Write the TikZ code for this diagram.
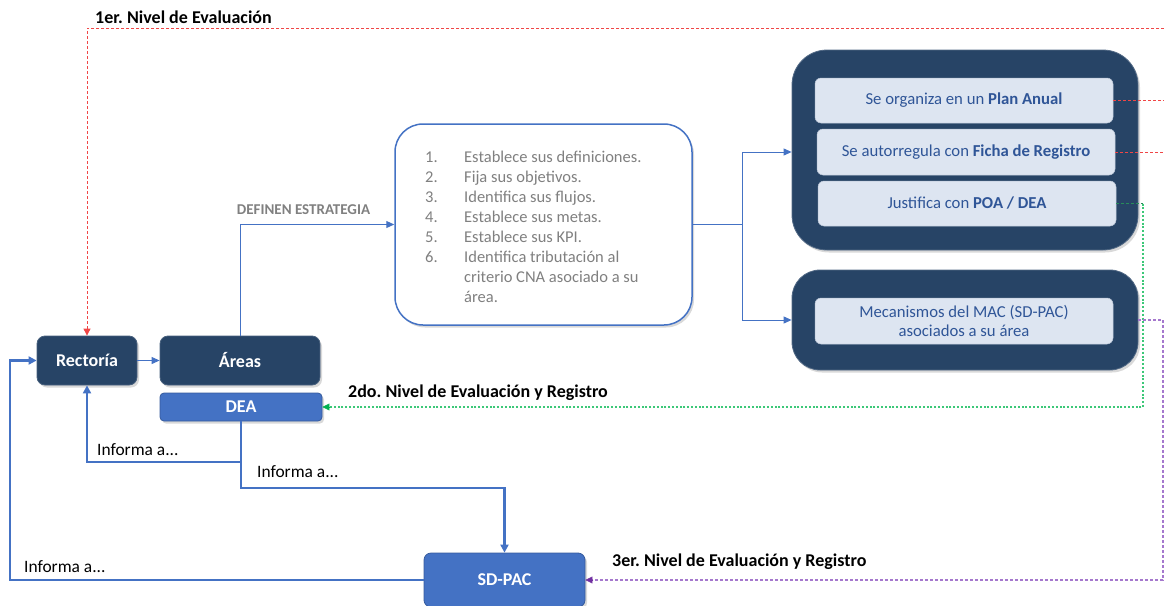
\documentclass[tikz,border=0pt]{standalone}
\usepackage{fontspec}
\setmainfont{Carlito}
\frenchspacing
\usetikzlibrary{arrows.meta,shadows,calc}
\definecolor{navy}{RGB}{39,68,102}
\definecolor{mblue}{RGB}{68,114,196}
\definecolor{lblue}{RGB}{221,229,241}
\definecolor{itext}{RGB}{47,85,151}
\definecolor{gtext}{RGB}{128,128,128}
\definecolor{dred}{RGB}{240,70,70}
\definecolor{dgreen}{RGB}{60,200,120}
\definecolor{dkgreen}{RGB}{40,140,90}
\definecolor{agreen}{RGB}{0,176,80}
\definecolor{dpurple}{RGB}{165,120,205}
\definecolor{apurple}{RGB}{112,48,160}
\begin{document}
\begin{tikzpicture}[x=1pt,y=-1pt,
  shd/.style={drop shadow={opacity=0.3,shadow xshift=2pt,shadow yshift=-2.5pt}},
  navybox/.style={fill=navy,draw=navy!85!white,line width=0.8pt,rounded corners=8pt,text=white,
     font=\fontsize{18}{21}\selectfont\bfseries,inner sep=0pt,shd},
  bluebox/.style={fill=mblue,draw=mblue!80!black,line width=0.8pt,rounded corners=4pt,text=white,
     font=\fontsize{18}{21}\selectfont\bfseries,inner sep=0pt,shd},
  bigbox/.style={fill=navy,draw=navy!80!white,line width=0.8pt,inner sep=0pt,shd},
  innerbox/.style={fill=lblue,draw=lblue!80!navy,line width=0.5pt,rounded corners=6pt,text=itext,
     font=\fontsize{16.7}{19}\selectfont,align=center,inner sep=0pt,minimum width=298pt},
  lbl/.style={font=\fontsize{18}{21}\selectfont\bfseries,anchor=west,inner sep=0pt},
  inf/.style={font=\fontsize{17.4}{20}\selectfont,anchor=west,inner sep=0pt},
  thinarr/.style={draw=mblue,line width=1pt,-{Triangle[length=8pt,width=7pt]}},
  thinln/.style={draw=mblue,line width=1pt},
  thickarr/.style={draw=mblue,line width=2.8pt,-{Triangle[length=8pt,width=8pt]}},
  reddash/.style={draw=dred,line width=0.9pt,dash pattern=on 3pt off 2pt},
  greendot/.style={draw=dgreen,line width=1.1pt,dash pattern=on 2pt off 1.8pt},
  purpdash/.style={draw=dpurple,line width=1.1pt,dash pattern=on 3pt off 2pt}
]
\useasboundingbox (0,0) rectangle (1164,605);

% main nodes
\node[navybox,minimum width=100pt,minimum height=49pt] (rect) at (87,360.5) {Rectoría};
\node[navybox,minimum width=160pt,minimum height=49pt] (areas) at (240,360.5) {Áreas};
\node[bluebox,minimum width=162pt,minimum height=28pt] (dea) at (241,407) {DEA};
\node[bluebox,rounded corners=7pt,minimum width=161pt,minimum height=54pt] (sdpac) at (504.5,580) {SD-PAC};

% strategy box
\node[draw=mblue,line width=1.5pt,fill=white,rounded corners=28pt,minimum width=297pt,minimum height=201pt,inner sep=0pt,shd] (strat) at (543.5,224.5) {};
\node[anchor=north west,text=gtext,font=\fontsize{16.5}{20}\selectfont,inner sep=0pt] (list) at (425,148)
{\begin{tabular}{@{}p{39pt}@{}l@{}}
1. & Establece sus definiciones.\\
2. & Fija sus objetivos.\\
3. & Identifica sus flujos.\\
4. & Establece sus metas.\\
5. & Establece sus KPI.\\
6. & Identifica tributación al\\
   & criterio CNA asociado a su\\
   & área.
\end{tabular}};

% big right boxes
\node[bigbox,rounded corners=35pt,minimum width=346pt,minimum height=200pt] (big1) at (965,150) {};
\node[innerbox,minimum height=45pt] (plan) at (964,100.5) {Se organiza en un \textbf{Plan Anual}};
\node[innerbox,minimum height=46pt] (ficha) at (966,152) {Se autorregula con \textbf{Ficha de Registro}};
\node[innerbox,minimum height=45pt] (poa) at (967,203.5) {Justifica con \textbf{POA / DEA}};

\node[bigbox,rounded corners=28pt,minimum width=346pt,minimum height=100pt] (big2) at (965,320) {};
\node[innerbox,minimum height=46pt] (mac) at (964,321) {Mecanismos del MAC (SD-PAC)\\asociados a su área};

% labels
\node[lbl] (l1) at (95,17) {1er. Nivel de Evaluación};
\node[lbl] (l2) at (348,393) {2do. Nivel de Evaluación y Registro};
\node[lbl] (l3) at (612,562) {3er. Nivel de Evaluación y Registro};
\node[font=\fontsize{15}{17}\selectfont\bfseries,text=gtext,inner sep=0pt] (def) at (303.5,210) {DEFINEN ESTRATEGIA};
\node[inf] (i1) at (97,450) {Informa a...};
\node[inf] (i2) at (257,472) {Informa a...};
\node[inf] (i3) at (24,567) {Informa a...};

% thin connectors
\draw[thinarr] (rect.east) -- (areas.west);
\draw[thinarr] (areas.north) |- (strat.west);
\coordinate (sp) at (742,224.5);
\draw[thinln] (strat.east) -- (sp);
\draw[thinarr] (sp) |- ($(big1.west)+(0,2)$);
\draw[thinarr] (sp) |- (big2.west);

% thick connectors
\coordinate (d1) at (241,462);
\coordinate (d2) at (241,488);
\draw[thickarr] (dea.south) -- (d1) -| (rect.south);
\draw[thickarr] (d1) -- (d2) -| (sdpac.north);
\coordinate (s1) at (10,580);
\draw[thickarr] (sdpac.west) -- (s1) |- (rect.west);

% dashed feedback
\coordinate (rtop) at (1164,28);
\draw[reddash,-{Triangle[length=7pt,width=7pt]}] (rtop) -| (rect.north);
\coordinate (rp) at (1164,100.5);
\coordinate (rf) at (1164,152);
\draw[reddash] (plan.east) -- (rp);
\draw[reddash] (ficha.east) -- (rf);
\coordinate (g1) at (1143,203.5);
\draw[greendot,draw=dkgreen,dash pattern=on 3pt off 2pt] (poa.east) -- (g1);
\draw[greendot] (g1) |- ($(dea.east)+(7,0)$);
\draw[draw=agreen,-{Triangle[length=7pt,width=7pt]}] ($(dea.east)+(8,0)$) -- (dea.east);
\coordinate (p1) at (1163,320);
\draw[purpdash] (big2.east) -- (p1);
\draw[purpdash] (p1) |- ($(sdpac.east)+(7,0)$);
\draw[draw=apurple,-{Triangle[length=7pt,width=7pt]}] ($(sdpac.east)+(8,0)$) -- (sdpac.east);
\end{tikzpicture}
\end{document}
